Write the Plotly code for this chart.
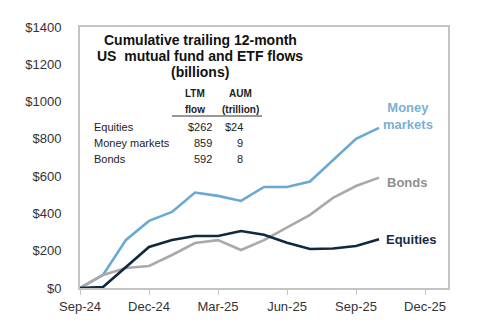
import plotly.graph_objects as go

months = ["Sep-24", "Oct-24", "Nov-24", "Dec-24", "Jan-25", "Feb-25", "Mar-25",
          "Apr-25", "May-25", "Jun-25", "Jul-25", "Aug-25", "Sep-25", "Oct-25"]
money_markets = [0, 70, 258, 360, 408, 512, 494, 467, 542, 542, 571, 687, 800, 859]
bonds = [0, 70, 107, 118, 177, 241, 257, 204, 257, 325, 392, 483, 547, 592]
equities = [0, 5, 113, 220, 258, 279, 279, 306, 286, 243, 209, 212, 225, 262]

tick_labels = ["Sep-24", "Dec-24", "Mar-25", "Jun-25", "Sep-25", "Dec-25"]
tick_pos = [0, 3, 6, 9, 12, 15]

table_rows = ["Equities", "Money markets", "Bonds"]
ltm_flow = ["$262", "859", "592"]
aum = ["$24", "9", "8"]

C_MM = "#6aa9d2"
C_BD = "#a9a9a9"
C_EQ = "#0f2a40"

x_idx = list(range(len(months)))

fig = go.Figure()
fig.add_trace(go.Scatter(x=x_idx, y=money_markets, mode="lines", line=dict(color=C_MM, width=2.6),
                         name="Money markets", hoverinfo="skip"))
fig.add_trace(go.Scatter(x=x_idx, y=bonds, mode="lines", line=dict(color=C_BD, width=2.6),
                         name="Bonds", hoverinfo="skip"))
fig.add_trace(go.Scatter(x=x_idx, y=equities, mode="lines", line=dict(color=C_EQ, width=2.6),
                         name="Equities", hoverinfo="skip"))

W, H = 500, 331
L, R, T, B = 80, 448, 27, 288


def px(X):
    return (X - L) / (R - L)


def py(Y):
    return (B - Y) / (B - T)


FONT = "Liberation Sans, Arial, sans-serif"
ann = []
# title
for text, y in [("Cumulative trailing 12-month", 40), ("US  mutual fund and ETF flows", 56),
                ("(billions)", 72)]:
    ann.append(dict(x=px(200), y=py(y), xref="paper", yref="paper", text=f"<b>{text}</b>",
                    showarrow=False, xanchor="center", yanchor="middle",
                    font=dict(family=FONT, size=14, color="#111")))
# table header
for text, x, y in [("LTM", 195, 93), ("flow", 195, 109), ("AUM", 240, 93), ("(trillion)", 240, 109)]:
    ann.append(dict(x=px(x), y=py(y), xref="paper", yref="paper", text=f"<b>{text}</b>",
                    showarrow=False, xanchor="center", yanchor="middle",
                    font=dict(family=FONT, size=10, color="#222")))
row_y = [127, 143, 159]
for name, f, a, y in zip(table_rows, ltm_flow, aum, row_y):
    ann.append(dict(x=px(92), y=py(y), xref="paper", yref="paper", text=name, showarrow=False,
                    xanchor="left", yanchor="middle", font=dict(family=FONT, size=11, color="#222")))
    ann.append(dict(x=px(214), y=py(y), xref="paper", yref="paper", text=f, showarrow=False,
                    xanchor="right", yanchor="middle", font=dict(family=FONT, size=11, color="#222")))
    ann.append(dict(x=px(245), y=py(y), xref="paper", yref="paper", text=a, showarrow=False,
                    xanchor="right", yanchor="middle", font=dict(family=FONT, size=11, color="#222")))
# series labels
ann.append(dict(x=px(408), y=py(116), xref="paper", yref="paper", text="<b>Money<br>markets</b>",
                showarrow=False, xanchor="center", yanchor="middle", align="center",
                font=dict(family=FONT, size=13, color="#7ab0d6")))
ann.append(dict(x=px(385), y=py(182), xref="paper", yref="paper", text="<b>Bonds</b>",
                showarrow=False, xanchor="left", yanchor="middle",
                font=dict(family=FONT, size=13, color="#8f8f8f")))
ann.append(dict(x=px(384), y=py(239), xref="paper", yref="paper", text="<b>Equities</b>",
                showarrow=False, xanchor="left", yanchor="middle",
                font=dict(family=FONT, size=13, color="#172c44")))

fig.update_layout(
    width=W, height=H,
    margin=dict(l=L, r=W - R, t=T, b=H - B, pad=0),
    paper_bgcolor="white", plot_bgcolor="white",
    showlegend=False,
    annotations=ann,
    shapes=[dict(type="line", xref="paper", yref="paper", x0=px(172), x1=px(262),
                 y0=py(116), y1=py(116), line=dict(color="#333", width=1))],
    xaxis=dict(range=[0, 16], tickvals=tick_pos, ticktext=tick_labels, showgrid=False,
               zeroline=False, showline=True, mirror=True, linecolor="#c4c4c4", linewidth=2,
               ticks="outside", ticklen=5, tickcolor="#c4c4c4", tickwidth=1,
               tickfont=dict(family=FONT, size=13, color="#333")),
    yaxis=dict(range=[0, 1400], dtick=200, tickprefix="$", tickformat="d", showgrid=False,
               zeroline=False, showline=True, mirror=True, linecolor="#c4c4c4", linewidth=2,
               ticks="", ticklabelstandoff=14,
               tickfont=dict(family=FONT, size=13, color="#333")),
)

fig.write_html("out.html")
